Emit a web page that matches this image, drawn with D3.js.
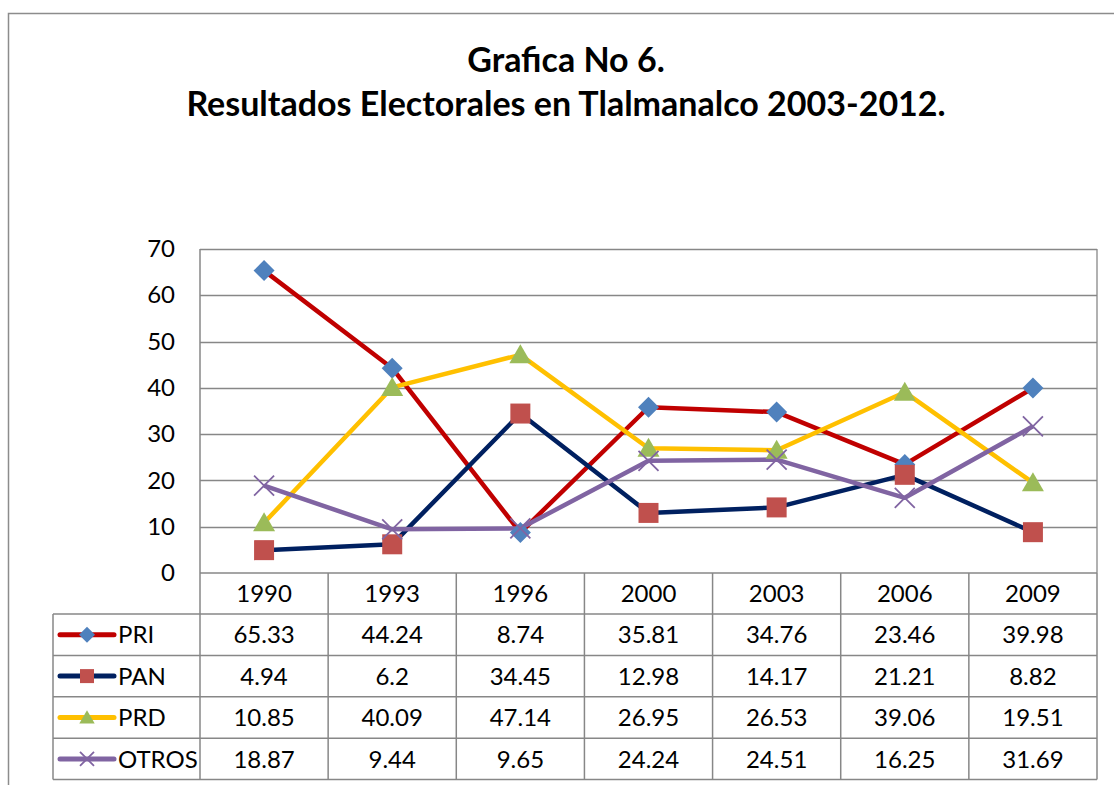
<!DOCTYPE html>
<html>
<head>
<meta charset="utf-8">
<script src="https://cdn.jsdelivr.net/npm/d3@7"></script>
<style>
  body { margin: 0; background: #fff; }
  svg { display: block; }
  text { font-family: Lato, "Open Sans", sans-serif; fill: #000; }
</style>
</head>
<body>
<script>
const years = ['1990', '1993', '1996', '2000', '2003', '2006', '2009']
const yTicks = [0, 10, 20, 30, 40, 50, 60, 70]
const seriesNames = ['PRI', 'PAN', 'PRD', 'OTROS']
const pri = [65.33, 44.24, 8.74, 35.81, 34.76, 23.46, 39.98]
const pan = [4.94, 6.2, 34.45, 12.98, 14.17, 21.21, 8.82]
const prd = [10.85, 40.09, 47.14, 26.95, 26.53, 39.06, 19.51]
const otros = [18.87, 9.44, 9.65, 24.24, 24.51, 16.25, 31.69]

const width = 1114
const height = 785
const plot = { left: 200, right: 1097, top: 249, bottom: 573 }
const rowH = 41.4
const headerBottom = 614
const tableLeft = 53
const gridColor = '#878787'

const styles = {
  PRI: { line: '#C00000', fill: '#4F81BD', shape: 'diamond' },
  PAN: { line: '#002060', fill: '#C0504D', shape: 'square' },
  PRD: { line: '#FFC000', fill: '#9BBB59', shape: 'triangle' },
  OTROS: { line: '#8064A2', fill: '#8064A2', shape: 'cross' },
}

const series = seriesNames.map((name, i) => ({ name, values: [pri, pan, prd, otros][i] }))

const svg = d3.select('body').append('svg')
  .attr('width', width)
  .attr('height', height)

// outer chart border (right and bottom run off the picture)
svg.append('path')
  .attr('d', `M8.5,${height + 5} V13.5 H${width + 5}`)
  .attr('fill', 'none')
  .attr('stroke', '#8c8c8c')
  .attr('stroke-width', 1.5)

// Title
const title = svg.append('text')
  .attr('text-anchor', 'middle')
  .attr('font-weight', 700)
  .attr('font-size', 34)
title.append('tspan').attr('x', 566).attr('y', 72).text('Grafica No 6.')
title.append('tspan').attr('x', 566).attr('y', 116).text('Resultados Electorales en Tlalmanalco 2003-2012.')

const x = d3.scaleBand()
  .domain(years)
  .range([plot.left, plot.right])
const cx = d => x(d) + x.bandwidth() / 2

const y = d3.scaleLinear()
  .domain([0, 70])
  .range([plot.bottom, plot.top])

// gridlines
svg.append('g')
  .selectAll('line')
  .data(yTicks.filter(t => t > 0))
  .join('line')
  .attr('x1', plot.left)
  .attr('x2', plot.right)
  .attr('y1', d => Math.round(y(d)) + 0.5)
  .attr('y2', d => Math.round(y(d)) + 0.5)
  .attr('stroke', gridColor)
  .attr('stroke-width', 1.3)

// y axis
const yAxis = svg.append('g')
  .attr('transform', `translate(${plot.left},0)`)
  .call(d3.axisLeft(y).tickValues(yTicks).tickSize(0).tickPadding(25))
yAxis.select('.domain').remove()
yAxis.selectAll('text')
  .attr('font-size', 24)
  .attr('font-family', 'Lato, sans-serif')
  .attr('fill', '#000')

// Table
const table = svg.append('g')
  .attr('stroke', gridColor)
  .attr('stroke-width', 1.5)

const rowLines = d3.range(5).map(i => headerBottom + i * rowH)
table.selectAll('line.h')
  .data(rowLines)
  .join('line')
  .attr('class', 'h')
  .attr('x1', tableLeft)
  .attr('x2', plot.right)
  .attr('y1', d => d)
  .attr('y2', d => d)

table.append('line')
  .attr('x1', plot.left).attr('x2', plot.right)
  .attr('y1', plot.bottom).attr('y2', plot.bottom)

table.append('line')
  .attr('x1', tableLeft).attr('x2', tableLeft)
  .attr('y1', headerBottom).attr('y2', rowLines[4])

table.selectAll('line.v')
  .data(d3.range(years.length + 1))
  .join('line')
  .attr('class', 'v')
  .attr('x1', i => plot.left + i * x.step())
  .attr('x2', i => plot.left + i * x.step())
  .attr('y1', i => (i === 0 ? plot.top : plot.bottom))
  .attr('y2', rowLines[4])

svg.append('line')
  .attr('x1', plot.right).attr('x2', plot.right)
  .attr('y1', plot.top).attr('y2', plot.bottom)
  .attr('stroke', gridColor)
  .attr('stroke-width', 1.3)

// header years
svg.append('g')
  .selectAll('text')
  .data(years)
  .join('text')
  .attr('x', cx)
  .attr('y', (plot.bottom + headerBottom) / 2)
  .attr('dy', '0.36em')
  .attr('text-anchor', 'middle')
  .attr('font-size', 24)
  .text(d => d)

const markerPath = (shape, s) => {
  if (shape === 'diamond') return `M0,${-s}L${s},0L0,${s}L${-s},0Z`
  if (shape === 'square') return `M${-s},${-s}H${s}V${s}H${-s}Z`
  if (shape === 'triangle') return `M0,${-s * 1.05}L${s * 1.1},${s * 0.85}H${-s * 1.1}Z`
  return `M${-s},${-s}L${s},${s}M${-s},${s}L${s},${-s}`
}

const drawMarker = (sel, name, s) => {
  const st = styles[name]
  const cross = st.shape === 'cross'
  sel.append('path')
    .attr('d', markerPath(st.shape, s))
    .attr('fill', cross ? 'none' : st.fill)
    .attr('stroke', cross ? st.fill : 'none')
    .attr('stroke-width', cross ? 1.8 : 0)
}

// rows
const rows = svg.append('g')
  .selectAll('g')
  .data(series)
  .join('g')
  .attr('transform', (d, i) => `translate(0,${headerBottom + i * rowH + rowH / 2})`)

rows.append('line')
  .attr('x1', 60).attr('x2', 114)
  .attr('stroke', d => styles[d.name].line)
  .attr('stroke-width', 5)
  .attr('stroke-linecap', 'round')

rows.each(function (d) {
  const g = d3.select(this).append('g').attr('transform', 'translate(87,0)')
  drawMarker(g, d.name, d.name === 'PRI' ? 8 : 7)
})

rows.append('text')
  .attr('x', 118)
  .attr('dy', '0.36em')
  .attr('font-size', 24)
  .text(d => d.name)

rows.selectAll('text.v')
  .data(d => d.values)
  .join('text')
  .attr('class', 'v')
  .attr('x', (v, i) => cx(years[i]))
  .attr('dy', '0.36em')
  .attr('text-anchor', 'middle')
  .attr('font-size', 24)
  .text(v => v)

// lines
const line = d3.line()
  .x((v, i) => cx(years[i]))
  .y(v => y(v))

const lineG = svg.append('g')
series.forEach(s => {
  lineG.append('path')
    .datum(s.values)
    .attr('d', line)
    .attr('fill', 'none')
    .attr('stroke', styles[s.name].line)
    .attr('stroke-width', 4.5)
    .attr('stroke-linejoin', 'round')
})

series.forEach(s => {
  lineG.append('g')
    .selectAll('g')
    .data(s.values)
    .join('g')
    .attr('transform', (v, i) => `translate(${cx(years[i])},${y(v)})`)
    .each(function () {
      drawMarker(d3.select(this), s.name, s.name === 'PRI' ? 10.5 : 10)
    })
})
</script>
</body>
</html>
